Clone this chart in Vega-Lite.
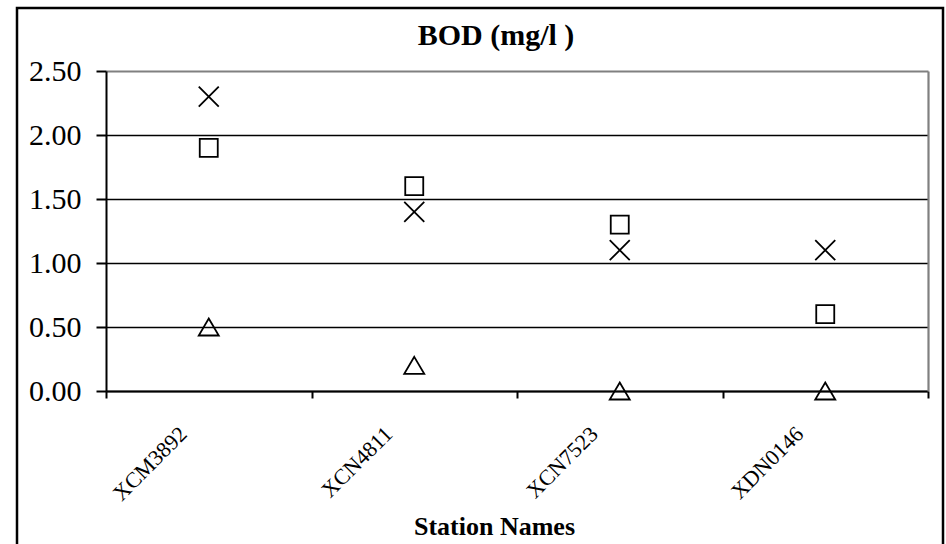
{
  "$schema": "https://vega.github.io/schema/vega-lite/v6.json",
  "width": 926,
  "height": 540,
  "autosize": {"type": "none"},
  "padding": {"left": 17, "top": 8, "right": 3, "bottom": 0},
  "background": "white",
  "title": {
    "text": "BOD (mg/l )",
    "font": "Liberation Serif",
    "fontSize": 30,
    "fontWeight": "bold",
    "color": "black",
    "orient": "none",
    "anchor": "middle",
    "align": "center",
    "baseline": "alphabetic",
    "offset": 0,
    "dx": 479,
    "dy": 37
  },
  "data": {
    "values": [
      {"station": "XCM3892", "series": "Cross", "bod": 2.3},
      {"station": "XCM3892", "series": "Square", "bod": 1.9},
      {"station": "XCM3892", "series": "Triangle", "bod": 0.5},
      {"station": "XCN4811", "series": "Cross", "bod": 1.4},
      {"station": "XCN4811", "series": "Square", "bod": 1.6},
      {"station": "XCN4811", "series": "Triangle", "bod": 0.2},
      {"station": "XCN7523", "series": "Cross", "bod": 1.1},
      {"station": "XCN7523", "series": "Square", "bod": 1.3},
      {"station": "XCN7523", "series": "Triangle", "bod": 0.0},
      {"station": "XDN0146", "series": "Cross", "bod": 1.1},
      {"station": "XDN0146", "series": "Square", "bod": 0.6},
      {"station": "XDN0146", "series": "Triangle", "bod": 0.0}
    ]
  },
  "config": {
    "view": {"stroke": "black", "strokeWidth": 2.5},
    "font": "Liberation Serif"
  },
  "layer": [
    {
      "mark": {"type": "point", "filled": false, "stroke": "black", "strokeWidth": 1.8, "size": 400, "opacity": 1},
      "encoding": {
        "x": {
          "field": "station",
          "type": "nominal",
          "sort": null,
          "scale": {"type": "band", "paddingInner": 0, "paddingOuter": 0, "range": [89, 911]},
          "axis": {
            "orient": "bottom",
            "offset": -157,
            "title": "Station Names",
            "titleFont": "Liberation Serif",
            "titleFontSize": 26,
            "titleFontWeight": "bold",
            "titleColor": "black",
            "titleX": 477,
            "titleY": 143,
            "titleBaseline": "alphabetic",
            "titleAlign": "center",
            "labelAngle": -45,
            "labelAlign": "right",
            "labelBaseline": "middle",
            "labelFont": "Liberation Serif",
            "labelFontSize": 22,
            "labelColor": "black",
            "labelPadding": 32,
            "labelOffset": -26,
            "labelBound": false,
            "labelOverlap": false,
            "tickBand": "extent",
            "tickSize": 7,
            "tickWidth": 2,
            "tickColor": "black",
            "domainColor": "black",
            "domainWidth": 2,
            "grid": false
          }
        },
        "y": {
          "field": "bod",
          "type": "quantitative",
          "scale": {"domain": [0, 2.5], "nice": false, "zero": false, "range": [383, 63]},
          "axis": {
            "orient": "left",
            "offset": -89,
            "values": [0, 0.5, 1, 1.5, 2, 2.5],
            "format": ".2f",
            "title": null,
            "labelFont": "Liberation Serif",
            "labelFontSize": 30,
            "labelColor": "black",
            "labelPadding": 15,
            "labelBaseline": "middle",
            "labelBound": false,
            "labelFlush": false,
            "labelOverlap": false,
            "tickSize": 10,
            "tickWidth": 2,
            "tickColor": "black",
            "domainColor": "black",
            "domainWidth": 2,
            "grid": true,
            "gridColor": {"condition": {"test": "datum.value >= 2.5", "value": "#808080"}, "value": "black"},
            "gridWidth": {"condition": {"test": "datum.value >= 2.5", "value": 2.2}, "value": 1.3}
          }
        },
        "shape": {
          "field": "series",
          "type": "nominal",
          "scale": {
            "domain": ["Cross", "Square", "Triangle"],
            "range": [
              "M-1,-1L1,1M-1,1L1,-1",
              "M-0.9,-0.9L0.9,-0.9L0.9,0.9L-0.9,0.9Z",
              "M0,-0.85L1,0.85L-1,0.85Z"
            ]
          },
          "legend": null
        }
      }
    },
    {
      "mark": {"type": "point", "opacity": 0},
      "encoding": {
        "x": {"field": "station", "type": "nominal", "sort": null, "axis": null},
        "y": {
          "field": "bod",
          "type": "quantitative",
          "axis": {
            "orient": "right",
            "offset": -15,
            "domainColor": "#808080",
            "domainWidth": 2.2,
            "labels": false,
            "ticks": false,
            "grid": false,
            "title": null
          }
        }
      }
    }
  ],
  "resolve": {"axis": {"x": "independent", "y": "independent"}}
}
